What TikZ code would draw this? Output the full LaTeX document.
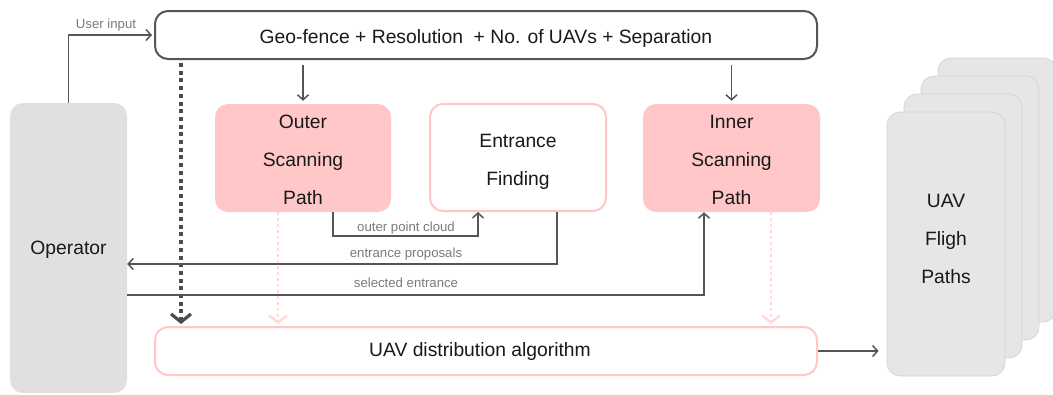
\documentclass[tikz,border=0pt]{standalone}
\usepackage{fontspec}
\setmainfont{Liberation Sans}
\usetikzlibrary{arrows.meta,calc}
\definecolor{dline}{HTML}{555555}
\definecolor{lblc}{HTML}{7A7A7A}
\definecolor{pinkf}{HTML}{FFC7C7}
\definecolor{pinkl}{HTML}{FFDADA}
\definecolor{opgray}{HTML}{E0E0E0}
\definecolor{cardg}{HTML}{E6E6E6}
\definecolor{cardb}{HTML}{D4D4D4}
\tikzset{
  box/.style={rectangle, rounded corners=13pt, inner sep=0pt},
  txt/.style={inner sep=0pt, align=center, font={\fontsize{19.3}{38}\selectfont}, text=black!90},
  pinkbox/.style={box, fill=pinkf},
  whitebox/.style={box, draw=pinkf, line width=2pt, fill=white},
  topbox/.style={box, draw=dline, line width=2pt, fill=white},
  opbox/.style={box, fill=opgray},
  card/.style={box, fill=cardg, draw=cardb, line width=0.8pt},
  arr/.style={draw=dline, line width=1.5pt, -{Straight Barb[length=5pt,width=11pt]}},
  lbl/.style={font={\fontsize{13.2}{15}\selectfont}, text=lblc, inner sep=0pt},
  pinkarr/.style={draw=pinkl, line width=2.5pt, dash pattern=on 3pt off 3pt, -{Straight Barb[length=7pt,width=18pt,line width=2.5pt]}},
  darkarr/.style={draw=dline!90!black, line width=3.2pt, dash pattern=on 4pt off 3.7pt, -{Straight Barb[length=8pt,width=20pt,line width=3.2pt]}},
}
\begin{document}
\begin{tikzpicture}[x=1pt,y=-1pt]
\useasboundingbox (0,0) rectangle (1053,394);
% cards
\node[card, minimum width=118pt, minimum height=264pt] (c4) at (997,190) {};
\node[card, minimum width=118pt, minimum height=264pt] (c3) at (980,208) {};
\node[card, minimum width=118pt, minimum height=264pt] (c2) at (963,226) {};
\node[card, minimum width=118pt, minimum height=264pt] (c1) at (946,244) {};
\node[txt] (c1t) at (946,239) {UAV\\Fligh\\Paths};
% main nodes
\node[topbox, minimum width=662pt, minimum height=48pt] (top) at (486,35) {};
\node[txt] (topt) at (486,38.5) {Geo-fence + Resolution \ + No. of UAVs + Separation};
\node[opbox, minimum width=117pt, minimum height=290pt] (op) at (68.5,248) {};
\node[txt] (opt) at (68.5,250) {Operator};
\node[pinkbox, minimum width=176pt, minimum height=108pt] (outer) at (303,158) {};
\node[txt] (outert) at (303,160) {Outer\\Scanning\\Path};
\node[whitebox, minimum width=176pt, minimum height=107pt] (ent) at (518,157.5) {};
\node[txt] (entt) at (518,161.5) {Entrance\\Finding};
\node[pinkbox, minimum width=177pt, minimum height=108pt] (inner) at (731.5,158) {};
\node[txt] (innert) at (731.5,160) {Inner\\Scanning\\Path};
\node[whitebox, minimum width=662pt, minimum height=48pt] (dist) at (486,351) {};
\node[txt] (distt) at (480,352) {UAV distribution algorithm};
% connectors
\draw[arr, shorten >=2pt] (op.north) |- (top.west);
\node[lbl] (ui) at (106,25) {User input};
\draw[arr, shorten <=5pt, shorten >=3pt] (top.south -| outer.north) -- (outer.north);
\draw[arr, shorten <=5pt, shorten >=3pt] (top.south -| inner.north) -- (inner.north);
\draw[darkarr, shorten <=3pt, shorten >=2pt] ([xshift=-305pt]top.south) -- ([xshift=-305pt]dist.north);
\draw[pinkarr, shorten >=2pt] ([xshift=-25pt]outer.south) -- ([xshift=-208pt]dist.north);
\draw[pinkarr, shorten >=2pt] ([xshift=39.5pt]inner.south) -- ([xshift=285pt]dist.north);
\draw[arr] ([xshift=30pt]outer.south) -- ++(0,24) -| ([xshift=-40pt]ent.south);
\node[lbl] (l1) at (406,228) {outer point cloud};
\draw[arr] ([xshift=39pt]ent.south) |- ([yshift=-16pt]op.east);
\node[lbl] (l2) at (406,254) {entrance proposals};
\draw[arr] ([yshift=-47pt]op.east) -| ([xshift=-27.5pt]inner.south);
\node[lbl] (l3) at (406,283) {selected entrance};
\draw[arr, shorten >=8pt] (dist.east) -- (dist.east -| c1.west);
\end{tikzpicture}
\end{document}
